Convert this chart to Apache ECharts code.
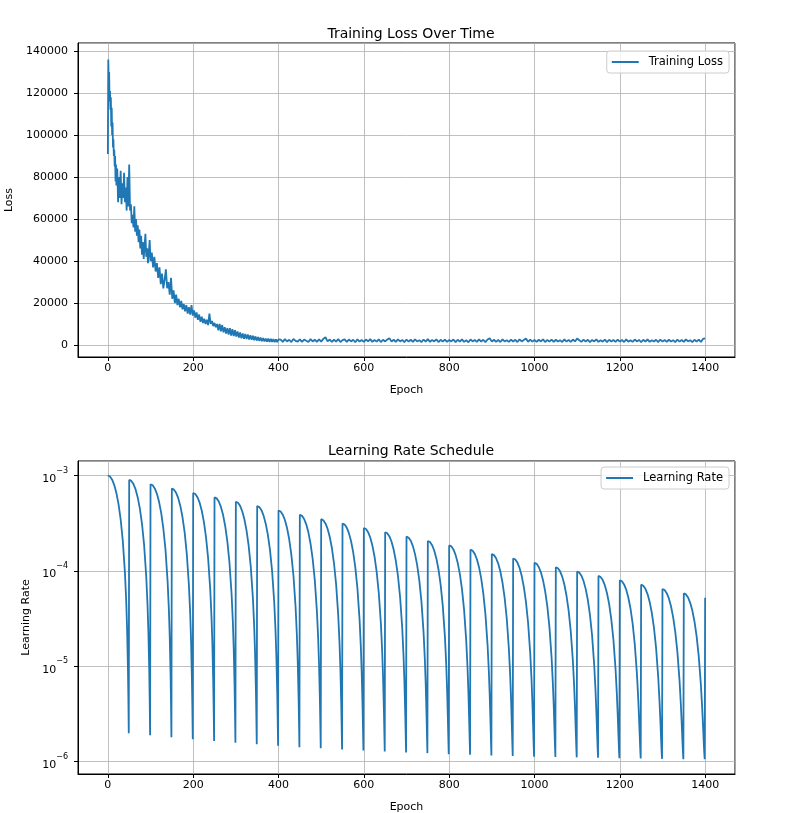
<!DOCTYPE html>
<html><head><meta charset="utf-8">
<script src="https://cdn.jsdelivr.net/npm/echarts/dist/echarts.min.js"></script>
<style>html,body{margin:0;padding:0;background:#fff}#c{width:800px;height:813px}</style>
</head><body><div id="c"></div>
<script>
// ---------- DATA ----------
// Training loss (segments: start epoch, step)
const lossA = [91000,136000,125000,130000,116000,121000,112000,118000,104000,113000,100000,106000,94000,98000,90000,93000,85000,90000,78000,86000,76000]; // epochs 0..20 step 1
const lossB = [84000,68000,80000,70000,83000,67000,77000,70000,82000,68000,75000,64000,80000,66000,86000,64000,67000,58000,62000,
  56000,66000,54000,60000,52000,57000,49000,55000,46000,52000,43000,49000,41000,47000,53000,42000,46000,39000,44000,50000,40000]; // epochs 22..100 step 2
const lossC = [44000,37000,42000,35000,39000,32000,37000,29000,34000,27000,31000,36000,27000,30000,24000,32000,22000,26000,20000,24000,
  19000,22000,18000,21000,17000,19500,16000,19000,15000,18000,14500,19000,14000,16500,13000,15500,12000,14500,11000,13500,
  10500,12500,10000,12000,9500,15000,10000,11500,9000,10500,8500,10000,7000,10000,6500,9500,6000,8500,5500,8000,
  5000,8000,4500,7500,4200,7000,4000,6500,3500,6000,3200,5500,3000,5300,2800,5000,2600,4700,2500,4400,
  2300,4100,2100,3800,2000,3500,1800,3300,1700,3100,1600,3000,1500,2900,1500,2800,1400,2700,1400,2700]; // epochs 103..400 step 3
const lossD = [2600,1500,2800,1700,2500,1400,2900,2000,1600,2700,1500,2600,2000,1400,2800,1700,2500,1500,2700,1600,
  2900,3700,1700,2600,1500,2500,1600,2800,1400,2300,2700,1500,2600,1700,2500,1300,2700,1600,2400,1500,
  2600,1700,2800,1500,2400,1600,2700,1400,2500,1700,2600,3200,1600,2500,1500,2700,1700,2400,1400,2600,
  1600,2500,1500,2700,1700,2300,1400,2600,1600,2800,1500,2400,1700,2700,1400,2500,1600,2600,1500,2400,
  1700,2600,1400,2500,1600,2700,1500,2300,1300,2600,1700,2400,1500,2700,1600,2500,1400,2600,3200,1600,
  2500,1500,2400,1400,2700,1700,2300,1500,2600,1600,2500,1400,2700,1700,2400,3100,1500,2600,1600,2400,
  1500,2500,1700,2700,1400,2400,1600,2600,1500,2500,1700,2300,1400,2700,1600,2400,1500,2600,1700,3100,
  2300,1500,2600,1600,2500,1400,2400,1700,2700,1500,2300,1600,2600,1400,2500,1700,2400,1500,2600,1600,
  2400,1400,2700,1600,2300,1500,2600,1700,2400,1400,2500,1600,2700,1500,2300,1700,2500,1400,2600,1600,
  2400,1500,2500,1700,2300,1400,2600,1600,2400,1500,2700,1700,2300,1400,2500,1600,2600,1500,2900,3200]; // epochs 405..1400 step 5
const lossSegments = [[lossA, 0, 1], [lossB, 22, 2], [lossC, 103, 3], [lossD, 405, 5]];

// Learning rate: 28 cycles of 50 epochs, values read at these epoch offsets within each cycle
const lrCycleLength = 50;
const lrOffsets = [0,2,5,10,15,20,25,30,35,40,43,45,47,48,49];
const lrCycles = [
 [1000e-6,996e-6,976e-6,905e-6,794e-6,655e-6,500.5e-6,346e-6,207e-6,96.4e-6,48.5e-6,25.4e-6,9.85e-6,4.93e-6,1.99e-6],
 [900e-6,896e-6,878e-6,814e-6,715e-6,589e-6,450.5e-6,312e-6,186e-6,86.8e-6,43.8e-6,23.0e-6,8.97e-6,4.55e-6,1.89e-6],
 [810e-6,807e-6,790e-6,733e-6,643e-6,530e-6,405.5e-6,280e-6,168e-6,78.2e-6,39.5e-6,20.8e-6,8.18e-6,4.19e-6,1.80e-6],
 [729e-6,726e-6,711e-6,659e-6,579e-6,477e-6,365e-6,253e-6,151e-6,70.5e-6,35.6e-6,18.8e-6,7.46e-6,3.87e-6,1.72e-6],
 [656e-6,654e-6,640e-6,593e-6,521e-6,430e-6,329e-6,227e-6,136e-6,63.6e-6,32.2e-6,17.1e-6,6.81e-6,3.58e-6,1.65e-6],
 [590e-6,588e-6,576e-6,534e-6,469e-6,387e-6,296e-6,205e-6,122.5e-6,57.3e-6,29.0e-6,15.4e-6,6.23e-6,3.33e-6,1.58e-6],
 [531e-6,529e-6,518e-6,481e-6,422e-6,348e-6,266e-6,184e-6,110.3e-6,51.6e-6,26.2e-6,14.0e-6,5.71e-6,3.09e-6,1.52e-6],
 [478e-6,476e-6,467e-6,433e-6,380e-6,313e-6,240e-6,166e-6,99.4e-6,46.6e-6,23.7e-6,12.7e-6,5.24e-6,2.88e-6,1.47e-6],
 [430e-6,429e-6,420e-6,389e-6,342e-6,282e-6,216e-6,149e-6,89.5e-6,42.0e-6,21.4e-6,11.5e-6,4.81e-6,2.70e-6,1.42e-6],
 [387e-6,386e-6,378e-6,350e-6,308e-6,254e-6,194e-6,134.5e-6,80.6e-6,37.9e-6,19.4e-6,10.5e-6,4.43e-6,2.53e-6,1.38e-6],
 [349e-6,347e-6,340e-6,315e-6,277e-6,228e-6,175e-6,121e-6,72.7e-6,34.2e-6,17.5e-6,9.53e-6,4.09e-6,2.37e-6,1.34e-6],
 [314e-6,313e-6,306e-6,284e-6,249e-6,205.7e-6,157.4e-6,109e-6,65.5e-6,30.9e-6,15.9e-6,8.68e-6,3.78e-6,2.24e-6,1.31e-6],
 [282e-6,281e-6,275e-6,255e-6,224e-6,185e-6,141.7e-6,98.2e-6,59.0e-6,27.9e-6,14.4e-6,7.91e-6,3.50e-6,2.11e-6,1.28e-6],
 [254e-6,253e-6,248e-6,230e-6,202e-6,166.7e-6,127.6e-6,88.5e-6,53.2e-6,25.2e-6,13.0e-6,7.22e-6,3.25e-6,2.00e-6,1.25e-6],
 [229e-6,228e-6,223e-6,207e-6,182e-6,150e-6,114.9e-6,79.7e-6,48.0e-6,22.7e-6,11.8e-6,6.60e-6,3.03e-6,1.90e-6,1.23e-6],
 [206e-6,205e-6,201e-6,186e-6,163.7e-6,135.1e-6,103.5e-6,71.8e-6,43.2e-6,20.6e-6,10.8e-6,6.04e-6,2.82e-6,1.81e-6,1.20e-6],
 [185e-6,184.6e-6,181e-6,168e-6,147.3e-6,121.6e-6,93.2e-6,64.7e-6,39.0e-6,18.6e-6,9.77e-6,5.53e-6,2.64e-6,1.73e-6,1.18e-6],
 [167e-6,166.1e-6,162.7e-6,150.9e-6,132.6e-6,109.5e-6,83.9e-6,58.3e-6,35.2e-6,16.8e-6,8.89e-6,5.08e-6,2.48e-6,1.66e-6,1.16e-6],
 [150e-6,149.5e-6,146.4e-6,135.8e-6,119.4e-6,98.6e-6,75.6e-6,52.5e-6,31.7e-6,15.2e-6,8.09e-6,4.67e-6,2.33e-6,1.59e-6,1.15e-6],
 [135e-6,134.6e-6,131.8e-6,122.2e-6,107.5e-6,88.8e-6,68.0e-6,47.3e-6,28.6e-6,13.8e-6,7.38e-6,4.31e-6,2.20e-6,1.53e-6,1.13e-6],
 [121.6e-6,121.1e-6,118.6e-6,110.0e-6,96.7e-6,80.0e-6,61.3e-6,42.7e-6,25.9e-6,12.5e-6,6.74e-6,3.98e-6,2.08e-6,1.48e-6,1.12e-6],
 [109.4e-6,109.0e-6,106.7e-6,99.0e-6,87.1e-6,72.0e-6,55.2e-6,38.5e-6,23.3e-6,11.4e-6,6.16e-6,3.68e-6,1.97e-6,1.43e-6,1.11e-6],
 [98.5e-6,98.1e-6,96.1e-6,89.1e-6,78.4e-6,64.8e-6,49.8e-6,34.7e-6,21.1e-6,10.3e-6,5.64e-6,3.41e-6,1.87e-6,1.39e-6,1.10e-6],
 [88.6e-6,88.3e-6,86.4e-6,80.1e-6,70.5e-6,58.3e-6,44.8e-6,31.3e-6,19.1e-6,9.36e-6,5.17e-6,3.17e-6,1.79e-6,1.35e-6,1.09e-6],
 [79.8e-6,79.5e-6,77.8e-6,72.2e-6,63.6e-6,52.6e-6,40.4e-6,28.2e-6,17.2e-6,8.52e-6,4.75e-6,2.95e-6,1.71e-6,1.31e-6,1.08e-6],
 [71.8e-6,71.5e-6,70.0e-6,64.9e-6,57.2e-6,47.3e-6,36.4e-6,25.5e-6,15.6e-6,7.76e-6,4.37e-6,2.76e-6,1.64e-6,1.28e-6,1.07e-6],
 [64.6e-6,64.3e-6,63.0e-6,58.4e-6,51.5e-6,42.6e-6,32.8e-6,23.0e-6,14.1e-6,7.07e-6,4.02e-6,2.58e-6,1.57e-6,1.25e-6,1.06e-6],
 [58.1e-6,57.9e-6,56.7e-6,52.6e-6,46.3e-6,38.4e-6,29.5e-6,20.7e-6,12.8e-6,6.45e-6,3.71e-6,2.42e-6,1.51e-6,1.23e-6,1.06e-6]
];
const lrFinal = [1400, 52.3e-6];

const titles = ['Training Loss Over Time', 'Learning Rate Schedule'];
const seriesNames = ['Training Loss', 'Learning Rate'];
const xName = 'Epoch';
const yNames = ['Loss', 'Learning Rate'];

// ---------- BUILD ----------
const lossData = [];
lossSegments.forEach(([vals, start, step]) => vals.forEach((v, i) => lossData.push([start + step * i, v])));
const lrData = [];
lrCycles.forEach((vals, k) => vals.forEach((v, j) => lrData.push([k * lrCycleLength + lrOffsets[j], v])));
lrData.push(lrFinal);

const FONT = 'DejaVu Sans';
const BLUE = '#1f77b4';
const gridTop = {left: 78, top: 43, width: 657, height: 314, show: true, borderColor: '#000', borderWidth: 1, containLabel: false, outerBoundsMode: 'none'};
const gridBot = {left: 78, top: 461, width: 657, height: 313, show: true, borderColor: '#000', borderWidth: 1, containLabel: false, outerBoundsMode: 'none'};

function xAxis(gi) {
  return {
    type: 'value', gridIndex: gi, min: -70, max: 1470, splitNumber: 8,
    name: xName, nameLocation: 'middle', nameGap: 28,
    nameTextStyle: {fontFamily: FONT, fontSize: 11, color: '#000'},
    axisLine: {show: true, onZero: false, lineStyle: {color: '#000', width: 1}},
    axisTick: {show: true, length: 4, lineStyle: {color: '#000', width: 1}},
    axisLabel: {show: true, margin: 6, fontFamily: FONT, fontSize: 11, color: '#000', showMinLabel: false, showMaxLabel: false,
      formatter: v => String(Math.round(v))},
    splitLine: {show: true, lineStyle: {color: '#b0b0b0', width: 0.8}}
  };
}

const legendCommon = {icon: 'rect', itemWidth: 27, itemHeight: 2, right: 71,
  padding: [5, 6, 5, 5], backgroundColor: 'rgba(255,255,255,0.8)', borderColor: '#cccccc', borderWidth: 1, borderRadius: 3,
  textStyle: {fontFamily: FONT, fontSize: 11.5, color: '#000', padding: [0, 0, 0, 5]}};

const option = {
  animation: false,
  backgroundColor: '#fff',
  title: [
    {text: titles[0], left: 406, top: 22, textAlign: 'center', textStyle: {fontFamily: FONT, fontSize: 14, fontWeight: 'normal', color: '#000'}},
    {text: titles[1], left: 406, top: 439, textAlign: 'center', textStyle: {fontFamily: FONT, fontSize: 14, fontWeight: 'normal', color: '#000'}}
  ],
  legend: [
    Object.assign({data: [seriesNames[0]], top: 51}, legendCommon),
    Object.assign({data: [seriesNames[1]], top: 467}, legendCommon)
  ],
  grid: [gridTop, gridBot],
  xAxis: [xAxis(0), xAxis(1)],
  yAxis: [
    {type: 'value', gridIndex: 0, min: -5714, max: 143810, splitNumber: 7,
     name: yNames[0], nameLocation: 'middle', nameGap: 62, nameRotate: 90,
     nameTextStyle: {fontFamily: FONT, fontSize: 11, color: '#000'},
     axisLine: {show: true, onZero: false, lineStyle: {color: '#000', width: 1}},
     axisTick: {show: true, length: 4, lineStyle: {color: '#000', width: 1}},
     axisLabel: {show: true, margin: 10, fontFamily: FONT, fontSize: 11, color: '#000', showMinLabel: false, showMaxLabel: false,
       formatter: v => String(Math.round(v))},
     splitLine: {show: true, lineStyle: {color: '#b0b0b0', width: 0.8}}},
    {type: 'log', logBase: 10, gridIndex: 1, min: 7.43e-7, max: 1.42e-3,
     name: yNames[1], nameLocation: 'middle', nameGap: 43, nameRotate: 90,
     nameTextStyle: {fontFamily: FONT, fontSize: 11, color: '#000'},
     axisLine: {show: true, onZero: false, lineStyle: {color: '#000', width: 1}},
     axisTick: {show: true, length: 4, lineStyle: {color: '#000', width: 1}},
     axisLabel: {show: true, margin: 10, fontFamily: FONT, fontSize: 11, color: '#000', showMinLabel: false, showMaxLabel: false,
       formatter: v => { const n = Math.round(Math.log10(v)); return '{b|10}{s|' + (n < 0 ? '\u2212' : '') + Math.abs(n) + '}'; },
       rich: {b: {fontFamily: FONT, fontSize: 11, color: '#000', lineHeight: 18, verticalAlign: 'bottom'},
              s: {fontFamily: FONT, fontSize: 8, color: '#000', lineHeight: 18, verticalAlign: 'top'}}},
     splitLine: {show: true, lineStyle: {color: '#b0b0b0', width: 0.8}}}
  ],
  series: [
    {name: seriesNames[0], type: 'line', xAxisIndex: 0, yAxisIndex: 0, data: lossData, symbol: 'none', showSymbol: false,
     lineStyle: {color: BLUE, width: 1.8}, itemStyle: {color: BLUE}, clip: true},
    {name: seriesNames[1], type: 'line', xAxisIndex: 1, yAxisIndex: 1, data: lrData, symbol: 'none', showSymbol: false,
     lineStyle: {color: BLUE, width: 1.8}, itemStyle: {color: BLUE}, clip: true}
  ]
};
const chart = echarts.init(document.getElementById('c'));
chart.setOption(option);
</script></body></html>
